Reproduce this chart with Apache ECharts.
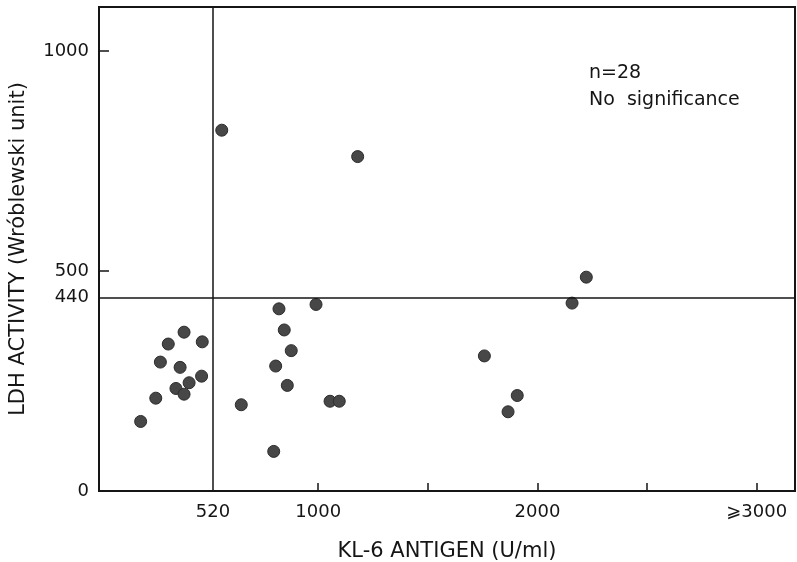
<!DOCTYPE html>
<html>
<head>
<meta charset="utf-8">
<title>KL-6 antigen vs LDH activity</title>
<script src="https://cdn.jsdelivr.net/npm/echarts@6/dist/echarts.min.js"></script>
<style>
  html, body { margin: 0; padding: 0; background: #ffffff; }
  #chart { width: 797px; height: 562px; }
</style>
</head>
<body>
<div id="chart"></div>
<script>
// Serum KL-6 antigen (U/ml) and LDH activity (Wróblewski unit), one entry per patient
const kl6 = [560, 1180, 821, 990, 388, 316, 471, 845, 280, 370, 877, 806, 468, 411,
             351, 388, 859, 259, 649, 1054, 1096, 190, 797, 2223, 2158, 1758, 1908, 1866];
const ldh = [820, 760, 414, 424, 361, 334, 339, 366, 293, 281, 319, 284, 261, 246,
             233, 220, 240, 211, 196, 204, 204, 158, 90, 486, 427, 307, 217, 180];

// Cut-off values drawn as reference lines
const kl6Cutoff = 520;
const ldhCutoff = 440;

// Axis ticks and labels
const xTickValues = [1000, 1500, 2000, 2500, 3000];
const xLabelValues = [520, 1000, 2000, 3000];
const yTickValues = [500, 1000];
const yLabelValues = [0, 440, 500, 1000];

const points = kl6.map((v, i) => [v, ldh[i]]);

const ink = '#151515';
const font = 'DejaVu Sans';

const chart = echarts.init(document.getElementById('chart'), null, { renderer: 'canvas' });

chart.setOption({
  animation: false,
  backgroundColor: '#ffffff',
  grid: {
    left: 99, right: 2, top: 7, bottom: 71,
    containLabel: false,
    outerBoundsMode: 'none',
    show: true, borderColor: ink, borderWidth: 2, backgroundColor: 'transparent'
  },
  xAxis: {
    type: 'value',
    min: 0, max: 3175,
    name: 'KL-6 ANTIGEN (U/ml)',
    nameLocation: 'middle',
    nameGap: 50,
    nameTextStyle: { fontFamily: font, fontSize: 21, color: ink },
    axisLine: { show: true, lineStyle: { color: ink, width: 2 } },
    axisTick: { show: true, inside: true, length: 8, customValues: xTickValues,
                lineStyle: { color: ink, width: 1.5 } },
    axisLabel: {
      customValues: xLabelValues,
      margin: 12,
      fontFamily: font, fontSize: 18, color: ink,
      formatter: v => (v === 3000 ? '\u2A7E3000' : String(v))
    },
    splitLine: { show: false }
  },
  yAxis: {
    type: 'value',
    min: 0, max: 1100,
    name: 'LDH ACTIVITY (Wróblewski unit)',
    nameLocation: 'middle',
    nameGap: 70,
    nameTextStyle: { fontFamily: font, fontSize: 21, color: ink },
    axisLine: { show: true, lineStyle: { color: ink, width: 2 } },
    axisTick: { show: true, inside: true, length: 10, customValues: yTickValues,
                lineStyle: { color: ink, width: 1.5 } },
    axisLabel: {
      customValues: yLabelValues,
      margin: 10,
      fontFamily: font, fontSize: 18, color: ink,
      formatter: v => String(v)
    },
    splitLine: { show: false }
  },
  series: [{
    type: 'scatter',
    data: points,
    symbol: 'circle',
    symbolSize: 12,
    itemStyle: { color: '#474747', borderColor: '#2c2c2c', borderWidth: 1, opacity: 1 },
    markLine: {
      silent: true,
      symbol: 'none',
      label: { show: false },
      lineStyle: { color: ink, width: 1.5, type: 'solid' },
      data: [{ xAxis: kl6Cutoff }, { yAxis: ldhCutoff }]
    }
  }],
  graphic: [
    { type: 'text', left: 589, top: 64,
      style: { text: 'n=28', font: '19px "DejaVu Sans"', fill: ink } },
    { type: 'text', left: 589, top: 91,
      style: { text: 'No  significance', font: '19px "DejaVu Sans"', fill: ink } }
  ]
});
</script>
</body>
</html>
